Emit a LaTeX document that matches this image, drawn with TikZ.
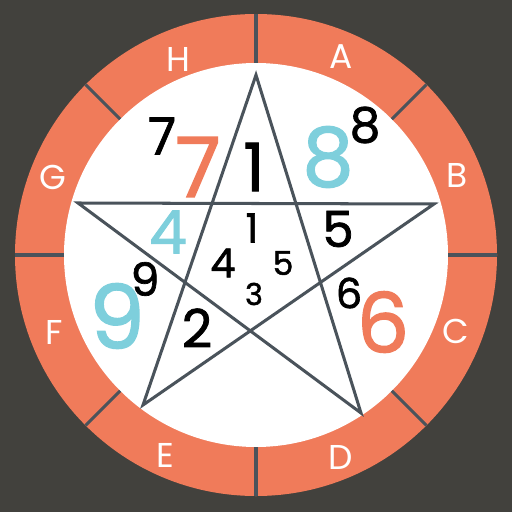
\documentclass[tikz,border=0pt]{standalone}
\usepackage{fontspec}
\usepackage{xcolor}
\usepackage{tikz}
\newfontfamily\numfont{Poppins}
\newfontfamily\digitfont[FakeBold=1.5]{Poppins}

\definecolor{bgdark}{HTML}{42413D}
\definecolor{ringorange}{HTML}{F07B5A}
\definecolor{slate}{HTML}{4A535B}
\definecolor{skycyan}{HTML}{7ECFDC}

\tikzset{
  glyph/.style={inner sep=0pt, font=\digitfont\fontsize{#1}{#1}\selectfont},
  ringletter/.style={inner sep=0pt, text=white, font=\numfont\fontsize{49}{49}\selectfont},
}

\begin{document}
\begin{tikzpicture}[x=0.5mm, y=-0.5mm]
  % Background
  \fill[bgdark] (0,0) rectangle (512,512);
  \useasboundingbox (0,0) rectangle (512,512);

  %--- Outer ring ---
  \coordinate (c) at (256,255);
  \fill[ringorange] (c) circle (241);
  \fill[white] (c) circle (192);

  % Segment dividers
  \foreach \a in {0,45,...,315}
    \draw[slate, line width=4.3pt] ([shift={(\a:192)}]c) -- ([shift={(\a:241)}]c);

  % Segment letters
  \node[ringletter] (lH) at (178,59) {H};
  \node[ringletter] (lA) at (341,57) {A};
  \node[ringletter] (lB) at (457,175) {B};
  \node[ringletter] (lC) at (456,331) {C};
  \node[ringletter] (lD) at (341,457) {D};
  \node[ringletter] (lE) at (165,455) {E};
  \node[ringletter] (lF) at (54,332) {F};
  \node[ringletter] (lG) at (53,177) {G};

  %--- Pentagram ---
  \coordinate (ptop) at (256,75);
  \coordinate (pright) at (434,204);
  \coordinate (pbr) at (361,413);
  \coordinate (pbl) at (143,405);
  \coordinate (pleft) at (78,203);
  \draw[slate, line width=4.3pt, line join=miter]
    (ptop) -- (pbl) -- (pright) -- (pleft) -- (pbr) -- cycle;

  %--- Numbers ---
  % top spike and upper corners
  \node[glyph=73] (nSevenS) at (162,136) {7};
  \node[glyph=118, text=ringorange] (nSevenB) at (198,167) {7};
  \node[glyph=95] (nOneB) at (254,167) {1};
  \node[glyph=116, text=skycyan] (nEightB) at (328,157) {8};
  \node[glyph=69] (nEightS) at (365,125) {8};

  % band under the crossbar
  \node[glyph=85, text=skycyan] (nFour) at (168,232) {4};
  \node[glyph=71] (nFive) at (338,229) {5};

  % inner pentagon
  \node[glyph=57] (cOne) at (252,228) {1};
  \node[glyph=57] (cFour) at (223,263) {4};
  \node[glyph=47] (cFive) at (283,263) {5};
  \node[glyph=43] (cThree) at (254,294) {3};

  % lower left and right
  \node[glyph=65] (nNineS) at (145,279) {9};
  \node[glyph=126, text=skycyan] (nNineB) at (117,316) {9};
  \node[glyph=75] (nTwo) at (197,328) {2};
  \node[glyph=59] (nSixS) at (349,293) {6};
  \node[glyph=118, text=ringorange] (nSixB) at (383,322) {6};
\end{tikzpicture}
\end{document}
